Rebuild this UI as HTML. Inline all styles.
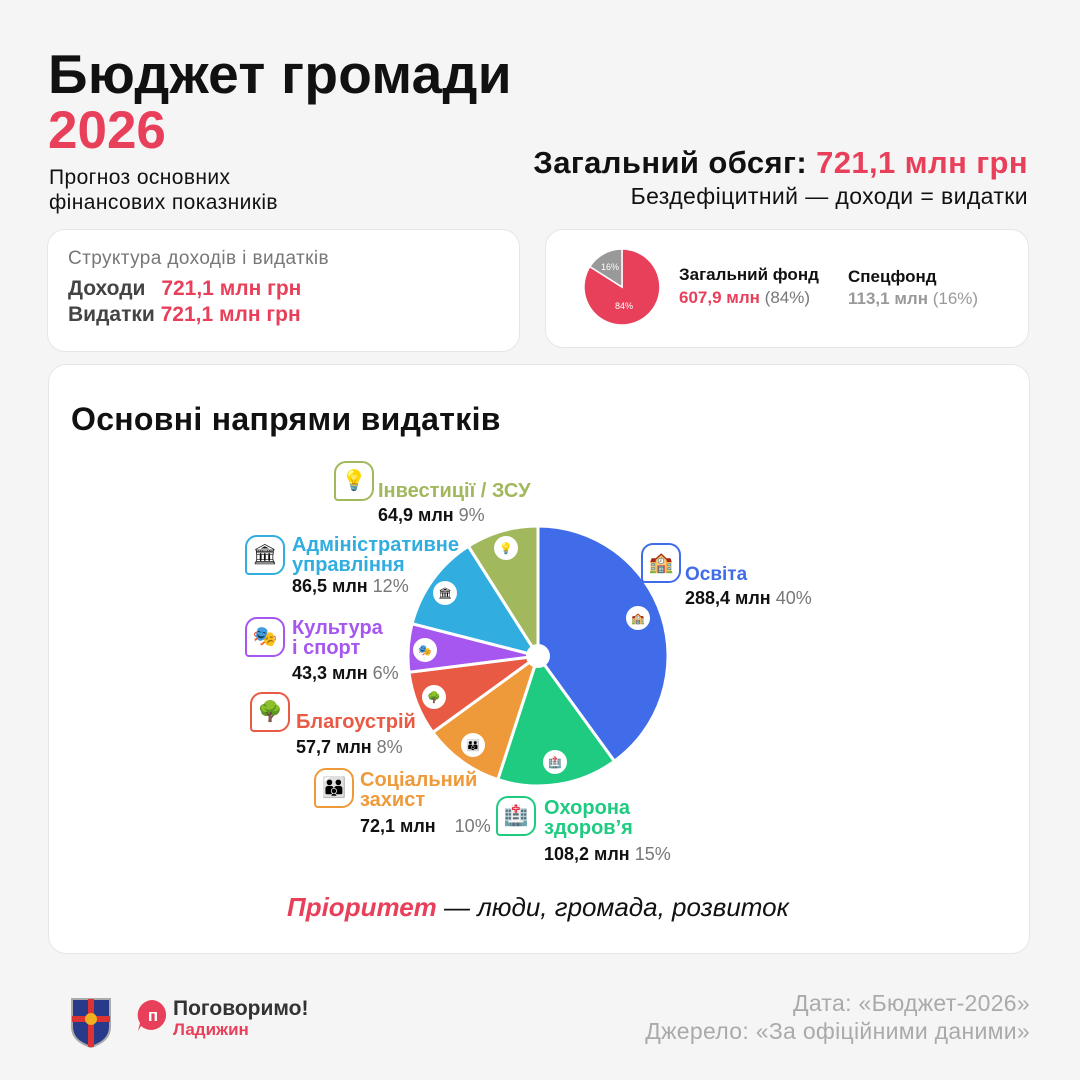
<!DOCTYPE html>
<html><head><meta charset="utf-8"><style>
*{margin:0;padding:0;box-sizing:border-box}
body{width:1080px;height:1080px;background:#f5f5f5;font-family:"Liberation Sans","DejaVu Sans",sans-serif;position:relative;overflow:hidden;color:#111}
.a{position:absolute;white-space:nowrap}
.card{position:absolute;background:#fff;border:1px solid #e6e6e6;border-radius:18px}
.b{font-weight:bold}
.red{color:#e8405a}
.g{color:#777}
.ic{position:absolute;width:40px;height:40px;border:2px solid;border-radius:12px 12px 12px 4px;background:#fff;font-size:20px;text-align:center;line-height:36px}
</style></head><body>
<div class="a b" style="left:48px;top:42px;font-size:55px;letter-spacing:0.3px">Бюджет громади</div>
<div class="a b red" style="left:48px;top:100px;font-size:53px">2026</div>
<div class="a" style="left:49px;top:165px;font-size:21px;line-height:25px;letter-spacing:0.4px">Прогноз основних<br>фінансових показників</div>
<div class="a b" style="right:52px;top:145px;font-size:31px;letter-spacing:0.4px">Загальний обсяг: <span class="red">721,1 млн грн</span></div>
<div class="a" style="right:52px;top:183px;font-size:23px;letter-spacing:0.4px">Бездефіцитний — доходи = видатки</div>

<div class="card" style="left:47px;top:229px;width:473px;height:123px"></div>
<div class="a g" style="left:68px;top:248px;font-size:19px;letter-spacing:0.4px">Структура доходів і видатків</div>
<div class="a b" style="left:68px;top:277px;font-size:21px;color:#444">Доходи <span class="red" style="margin-left:10px">721,1 млн грн</span></div>
<div class="a b" style="left:68px;top:303px;font-size:21px;color:#444">Видатки <span class="red">721,1 млн грн</span></div>

<div class="card" style="left:545px;top:229px;width:484px;height:119px"></div>
<svg class="a" style="left:0;top:0" width="1080" height="1080">
<path d="M622 287 L622 249 A38 38 0 1 1 589.9 266.6 Z" fill="#e8405a" stroke="#fff" stroke-width="1.5"/>
<path d="M622 287 L589.9 266.6 A38 38 0 0 1 622 249 Z" fill="#999" stroke="#fff" stroke-width="1.5"/>
<text x="610" y="270" font-size="9" fill="#fff" text-anchor="middle" font-family="Liberation Sans">16%</text>
<text x="624" y="309" font-size="9" fill="#fff" text-anchor="middle" font-family="Liberation Sans">84%</text>
</svg>
<div class="a b" style="left:679px;top:265px;font-size:17px">Загальний фонд</div>
<div class="a" style="left:679px;top:288px;font-size:17px"><b class="red">607,9 млн</b> <span class="g">(84%)</span></div>
<div class="a b" style="left:848px;top:267px;font-size:17px">Спецфонд</div>
<div class="a" style="left:848px;top:289px;font-size:17px;color:#999"><b>113,1 млн</b> (16%)</div>

<div class="card" style="left:48px;top:364px;width:982px;height:590px"></div>
<div class="a b" style="left:71px;top:401px;font-size:32px;letter-spacing:0.3px">Основні напрями видатків</div>

<svg class="a" style="left:0;top:0" width="1080" height="1080">
<g stroke="#fff" stroke-width="3" stroke-linejoin="round">
<path d="M538 656 L538 526 A130 130 0 0 1 614.4 761.2 Z" fill="#416ce9"/>
<path d="M538 656 L614.4 761.2 A130 130 0 0 1 497.8 779.6 Z" fill="#1fcb80"/>
<path d="M538 656 L497.8 779.6 A130 130 0 0 1 432.8 732.4 Z" fill="#ef9a3a"/>
<path d="M538 656 L432.8 732.4 A130 130 0 0 1 409 672.3 Z" fill="#e95a45"/>
<path d="M538 656 L409 672.3 A130 130 0 0 1 412.1 623.7 Z" fill="#a557f0"/>
<path d="M538 656 L412.1 623.7 A130 130 0 0 1 468.3 546.2 Z" fill="#31ade0"/>
<path d="M538 656 L468.3 546.2 A130 130 0 0 1 538 526 Z" fill="#a2b85c"/>
</g>
<circle cx="538" cy="656" r="12" fill="#fff"/>
<g fill="#fff"><circle cx="638" cy="618" r="12"/><circle cx="555" cy="762" r="12"/><circle cx="473" cy="745" r="12"/><circle cx="434" cy="697" r="12"/><circle cx="425" cy="650" r="12"/><circle cx="445" cy="593" r="12"/><circle cx="506" cy="548" r="12"/></g>
<g font-size="11" text-anchor="middle" font-family="DejaVu Sans"><text x="638" y="622">🏫</text><text x="555" y="766">🏥</text><text x="473" y="749">👪</text><text x="434" y="701">🌳</text><text x="425" y="654">🎭</text><text x="445" y="597">🏛</text><text x="506" y="552">💡</text></g>
</svg>

<div class="ic" style="left:641px;top:543px;border-color:#416ce9">🏫</div>
<div class="a b" style="left:685px;top:564px;font-size:19px;color:#416ce9">Освіта</div>
<div class="a" style="left:685px;top:588px;font-size:18px"><b>288,4 млн</b> <span class="g">40%</span></div>

<div class="ic" style="left:334px;top:461px;border-color:#a2b85c">💡</div>
<div class="a b" style="left:378px;top:480px;font-size:20px;color:#a2b85c">Інвестиції / ЗСУ</div>
<div class="a" style="left:378px;top:505px;font-size:18px"><b>64,9 млн</b> <span class="g">9%</span></div>

<div class="ic" style="left:245px;top:535px;border-color:#31ade0">🏛</div>
<div class="a b" style="left:292px;top:535px;font-size:20px;color:#31ade0;line-height:20px">Адміністративне<br>управління</div>
<div class="a" style="left:292px;top:576px;font-size:18px"><b>86,5 млн</b> <span class="g">12%</span></div>

<div class="ic" style="left:245px;top:617px;border-color:#a557f0">🎭</div>
<div class="a b" style="left:292px;top:618px;font-size:20px;color:#a557f0;line-height:20px">Культура<br>і спорт</div>
<div class="a" style="left:292px;top:663px;font-size:18px"><b>43,3 млн</b> <span class="g">6%</span></div>

<div class="ic" style="left:250px;top:692px;border-color:#e95a45">🌳</div>
<div class="a b" style="left:296px;top:711px;font-size:20px;color:#e95a45">Благоустрій</div>
<div class="a" style="left:296px;top:737px;font-size:18px"><b>57,7 млн</b> <span class="g">8%</span></div>

<div class="ic" style="left:314px;top:768px;border-color:#ef9a3a">👪</div>
<div class="a b" style="left:360px;top:770px;font-size:20px;color:#ef9a3a;line-height:20px">Соціальний<br>захист</div>
<div class="a" style="left:360px;top:816px;font-size:18px"><b>72,1 млн</b> <span class="g" style="margin-left:14px">10%</span></div>

<div class="ic" style="left:496px;top:796px;border-color:#1fcb80">🏥</div>
<div class="a b" style="left:544px;top:798px;font-size:20px;color:#1fcb80;line-height:20px">Охорона<br>здоров’я</div>
<div class="a" style="left:544px;top:844px;font-size:18px"><b>108,2 млн</b> <span class="g">15%</span></div>

<div class="a" style="left:287px;top:892px;font-size:26px;font-style:italic"><b class="red">Пріоритет</b> — люди, громада, розвиток</div>

<svg class="a" style="left:66px;top:991px" width="50" height="58"><path d="M6 8 H44 V36 Q44 50 25 56 Q6 50 6 36 Z" fill="#2a3a8a" stroke="#aaa" stroke-width="2"/><path d="M25 8 V56 M6 28 H44" stroke="#d33" stroke-width="6"/><circle cx="25" cy="28" r="6" fill="#f0b020"/></svg>
<svg class="a" style="left:136px;top:998px" width="34" height="34"><path d="M17 2 A15 15 0 1 1 5 28 L2 33 L4 25 A15 15 0 0 1 17 2Z" fill="#e8405a"/><text x="17" y="23" font-size="17" fill="#fff" text-anchor="middle" font-weight="bold" font-family="Liberation Sans">п</text></svg>
<div class="a b" style="left:173px;top:997px;font-size:21px;color:#333">Поговоримо!</div>
<div class="a b red" style="left:173px;top:1020px;font-size:17px">Ладижин</div>
<div class="a" style="right:50px;top:990px;font-size:23px;color:#aaa;letter-spacing:0.3px">Дата: «Бюджет-2026»</div>
<div class="a" style="right:50px;top:1018px;font-size:23px;color:#aaa;letter-spacing:0.3px">Джерело: «За офіційними даними»</div>
</body></html>
